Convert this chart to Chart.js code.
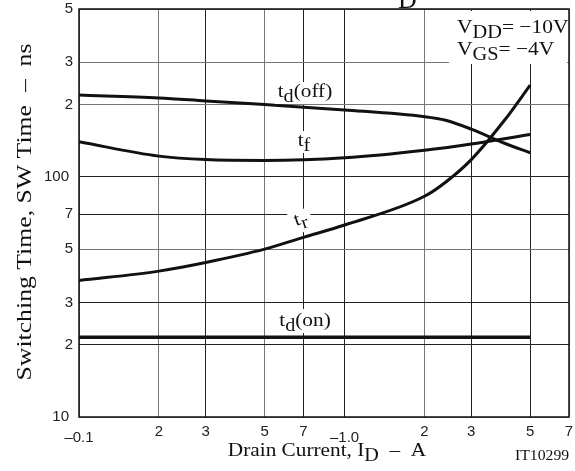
<!DOCTYPE html>
<html>
<head>
<meta charset="utf-8">
<script src="https://cdn.jsdelivr.net/npm/chart.js@4/dist/chart.umd.min.js"></script>
<style>
  html, body { margin: 0; padding: 0; background: #fff; }
  #wrap { width: 575px; height: 471px; }
</style>
</head>
<body>
<div id="wrap"><canvas id="myChart" width="575" height="471"></canvas></div>
<script>
// drain current (A, magnitude) and switching times (ns)
const tdOffX = [0.1, 0.2, 0.3, 0.5, 1, 2, 2.4, 3, 4, 5];
const tdOffY = [219, 213, 207, 200, 190, 178, 172, 158, 138, 126];

const tfX = [0.1, 0.2, 0.3, 0.5, 1, 2, 3, 5];
const tfY = [140, 122, 118, 117, 120, 129, 137, 150];

const trX = [0.1, 0.2, 0.3, 0.5, 0.7, 1, 2, 2.4, 3, 4, 5];
const trY = [37, 40.5, 44, 50, 56, 63, 83, 95, 118, 172, 241];

const tdOnX = [0.1, 5];
const tdOnY = [21.5, 21.5];

const xTicks = [0.1, 0.2, 0.3, 0.5, 0.7, 1, 2, 3, 5, 7];
const xTickLabels = ['\u20130.1', '2', '3', '5', '7', '\u20131.0', '2', '3', '5', '7'];
const yTicks = [10, 20, 30, 50, 70, 100, 200, 300, 500];
const yTickLabels = ['10', '2', '3', '5', '7', '100', '2', '3', '5'];

const xGridDark = [0.3, 0.7, 1, 3, 5];
const yGridDark = [20, 30, 70, 100];

const pts = (xs, ys) => xs.map((x, i) => ({ x, y: ys[i] }));

const serif = '"Liberation Serif", "Times New Roman", serif';
const sans = '"Liberation Sans", Arial, sans-serif';

// draws text made of [string, isSub] parts, stretched horizontally by sx
function rich(ctx, parts, x, y, size, align, sx = 1) {
  ctx.save();
  ctx.textBaseline = 'alphabetic';
  ctx.textAlign = 'left';
  const widths = parts.map(([s, sub]) => {
    ctx.font = `${sub ? size - 1 : size}px ${serif}`;
    return ctx.measureText(s).width;
  });
  const total = widths.reduce((a, b) => a + b, 0);
  ctx.translate(x, y);
  ctx.scale(sx, 1);
  let cx = align === 'center' ? -total / 2 : 0;
  parts.forEach(([s, sub], i) => {
    ctx.font = `${sub ? size - 1 : size}px ${serif}`;
    ctx.fillText(s, cx, sub ? 5 : 0);
    cx += widths[i];
  });
  ctx.restore();
  return total * sx;
}

function box(ctx, x, y, w, h) {
  ctx.save();
  ctx.fillStyle = '#fff';
  ctx.fillRect(x, y, w, h);
  ctx.restore();
}

const decorations = {
  id: 'decorations',
  afterDatasetsDraw(chart) {
    const { ctx, chartArea: a, scales: { x, y } } = chart;
    ctx.save();
    ctx.fillStyle = '#111';

    // curve labels with white backgrounds
    box(ctx, 275, 82, 60, 22);
    rich(ctx, [['t', 0], ['d', 1], ['(off)', 0]], 305, 97, 19, 'center', 1.12);
    box(ctx, 294, 131, 22, 22);
    rich(ctx, [['t', 0], ['f', 1]], 304, 146, 19, 'center', 1.12);
    ctx.save();
    ctx.translate(302, 224);
    ctx.rotate(-0.33);
    ctx.fillStyle = '#fff';
    ctx.fillRect(-11, -14, 22, 22);
    ctx.fillStyle = '#111';
    rich(ctx, [['t', 0], ['r', 1]], 0, 0, 19, 'center', 1.12);
    ctx.restore();
    box(ctx, 275, 309, 60, 24);
    rich(ctx, [['t', 0], ['d', 1], ['(on)', 0]], 305, 326, 19, 'center', 1.12);

    // conditions box
    box(ctx, 449, 11, 118, 53);
    rich(ctx, [['V', 0], ['DD', 1], ['= \u221210V', 0]], 457, 33, 19, 'left', 1.13);
    rich(ctx, [['V', 0], ['GS', 1], ['= \u22124V', 0]], 457, 55, 19, 'left', 1.13);

    // frame
    ctx.strokeStyle = '#111';
    ctx.lineWidth = 1.5;
    ctx.strokeRect(a.left, a.top, a.right - a.left, a.bottom - a.top);

    // tick labels
    ctx.fillStyle = '#222';
    ctx.font = `15px ${sans}`;
    ctx.textAlign = 'center';
    ctx.textBaseline = 'middle';
    xTicks.forEach((v, i) => {
      const px = x.getPixelForValue(v);
      const low = (v === 0.1 || v === 1) ? 6 : 0;
      ctx.fillText(xTickLabels[i], px, a.bottom + 15 + low);
    });
    ctx.textAlign = 'right';
    yTicks.forEach((v, i) => {
      const right = yTickLabels[i].length > 1 ? a.left - 10 : a.left - 6;
      ctx.fillText(yTickLabels[i], right, y.getPixelForValue(v));
    });

    // axis titles
    ctx.fillStyle = '#111';
    rich(ctx, [['Drain Current, I', 0], ['D', 1], ['  \u2013  A', 0]], 327, 456, 19, 'center', 1.12);
    ctx.save();
    ctx.translate(515, 460);
    ctx.scale(1.05, 1);
    ctx.font = `15px ${serif}`;
    ctx.textAlign = 'left';
    ctx.textBaseline = 'alphabetic';
    ctx.fillText('IT10299', 0, 0);
    ctx.restore();
    ctx.save();
    ctx.translate(31, 212);
    ctx.rotate(-Math.PI / 2);
    ctx.font = `21px ${serif}`;
    const yTitle = 'Switching Time, SW Time  \u2013  ns';
    const w = ctx.measureText(yTitle).width;
    ctx.scale(337 / w, 1);
    ctx.textAlign = 'center';
    ctx.textBaseline = 'alphabetic';
    ctx.fillText(yTitle, 0, 0);
    ctx.restore();

    // clipped title subscript at the top
    ctx.font = `26px ${serif}`;
    ctx.textAlign = 'left';
    ctx.textBaseline = 'alphabetic';
    ctx.fillText('D', 398, 8);
    ctx.restore();
  }
};

const lineStyle = { borderColor: '#111', borderWidth: 3, pointRadius: 0, cubicInterpolationMode: 'monotone', fill: false };

new Chart('myChart', {
  type: 'line',
  data: {
    datasets: [
      { ...lineStyle, label: 'td(off)', data: pts(tdOffX, tdOffY) },
      { ...lineStyle, label: 'tf', data: pts(tfX, tfY) },
      { ...lineStyle, label: 'tr', data: pts(trX, trY) },
      { ...lineStyle, label: 'td(on)', data: pts(tdOnX, tdOnY), borderWidth: 3.5 }
    ]
  },
  options: {
    responsive: false,
    animation: false,
    layout: { padding: { left: 79, right: 6, top: 9, bottom: 54 } },
    plugins: { legend: false, tooltip: false },
    scales: {
      x: {
        type: 'logarithmic',
        min: 0.1,
        max: 7,
        afterBuildTicks: s => { s.ticks = xTicks.map(v => ({ value: v })); },
        ticks: { display: false },
        border: { display: false },
        grid: {
          drawTicks: false,
          lineWidth: 1,
          color: c => xGridDark.includes(c.tick?.value) ? '#222' : '#777'
        }
      },
      y: {
        type: 'logarithmic',
        min: 10,
        max: 500,
        afterBuildTicks: s => { s.ticks = yTicks.map(v => ({ value: v })); },
        ticks: { display: false },
        border: { display: false },
        grid: {
          drawTicks: false,
          lineWidth: 1,
          color: c => yGridDark.includes(c.tick?.value) ? '#222' : '#777'
        }
      }
    }
  },
  plugins: [decorations]
});
</script>
</body>
</html>
